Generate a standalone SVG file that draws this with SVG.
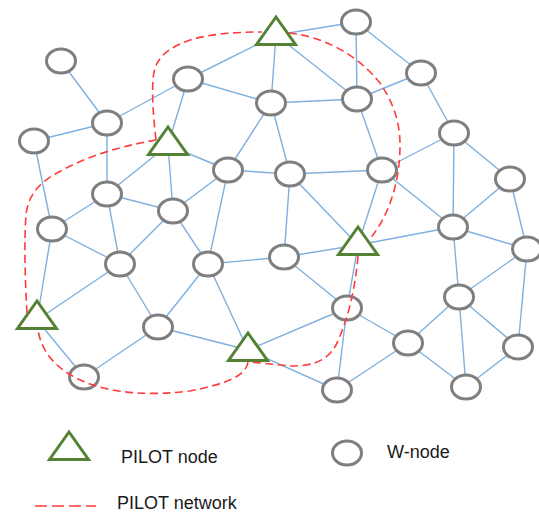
<svg xmlns="http://www.w3.org/2000/svg" width="539" height="512" viewBox="0 0 539 512">
  <style>
    .edge { stroke: #7eb0e0; stroke-width: 1.4; fill: none; }
    .wnode { fill: #ffffff; stroke: #7f7f7f; stroke-width: 3; }
    .pilot { fill: #ffffff; stroke: #548235; stroke-width: 3; stroke-linejoin: miter; }
    .net { stroke: #ff3b3b; stroke-width: 1.6; fill: none; stroke-dasharray: 8 4.5; }
    .label { font-family: "Liberation Sans", Arial, sans-serif; font-size: 18px; fill: #1a1a1a; }
  </style>
  <defs>
    <ellipse id="w" cx="0" cy="0" rx="14.5" ry="12"/>
    <path id="tri" d="M0,-14 L19.5,13.5 L-19.5,13.5 Z"/>
  </defs>
  <rect width="539" height="512" fill="#ffffff"/>

  <!-- links between nodes -->
  <g id="connectors" class="edge">
    <line x1="61" y1="61" x2="107" y2="123"/>
    <line x1="107" y1="123" x2="34" y2="141"/>
    <line x1="107" y1="123" x2="188" y2="79"/>
    <line x1="107" y1="123" x2="107" y2="194"/>
    <line x1="34" y1="141" x2="52" y2="229"/>
    <line x1="188" y1="79" x2="168" y2="145"/>
    <line x1="188" y1="79" x2="276" y2="35"/>
    <line x1="188" y1="79" x2="271" y2="103"/>
    <line x1="276" y1="35" x2="271" y2="103"/>
    <line x1="276" y1="35" x2="356" y2="22"/>
    <line x1="276" y1="35" x2="357" y2="99"/>
    <line x1="271" y1="103" x2="357" y2="99"/>
    <line x1="271" y1="103" x2="228" y2="170"/>
    <line x1="271" y1="103" x2="290" y2="174"/>
    <line x1="356" y1="22" x2="357" y2="99"/>
    <line x1="356" y1="22" x2="421" y2="73"/>
    <line x1="357" y1="99" x2="421" y2="73"/>
    <line x1="357" y1="99" x2="382" y2="170"/>
    <line x1="421" y1="73" x2="454" y2="133"/>
    <line x1="454" y1="133" x2="382" y2="170"/>
    <line x1="454" y1="133" x2="453" y2="227"/>
    <line x1="454" y1="133" x2="510" y2="179"/>
    <line x1="168" y1="145" x2="107" y2="194"/>
    <line x1="168" y1="145" x2="173" y2="211"/>
    <line x1="168" y1="145" x2="228" y2="170"/>
    <line x1="228" y1="170" x2="290" y2="174"/>
    <line x1="290" y1="174" x2="382" y2="170"/>
    <line x1="228" y1="170" x2="173" y2="211"/>
    <line x1="228" y1="170" x2="208" y2="264"/>
    <line x1="290" y1="174" x2="284" y2="257"/>
    <line x1="290" y1="174" x2="358" y2="245"/>
    <line x1="208" y1="264" x2="284" y2="257"/>
    <line x1="284" y1="257" x2="358" y2="245"/>
    <line x1="284" y1="257" x2="347" y2="308"/>
    <line x1="208" y1="264" x2="248" y2="350"/>
    <line x1="208" y1="264" x2="158" y2="327"/>
    <line x1="173" y1="211" x2="208" y2="264"/>
    <line x1="173" y1="211" x2="107" y2="194"/>
    <line x1="173" y1="211" x2="120" y2="264"/>
    <line x1="107" y1="194" x2="52" y2="229"/>
    <line x1="107" y1="194" x2="120" y2="264"/>
    <line x1="52" y1="229" x2="120" y2="264"/>
    <line x1="52" y1="229" x2="37" y2="320"/>
    <line x1="37" y1="320" x2="120" y2="264"/>
    <line x1="120" y1="264" x2="158" y2="327"/>
    <line x1="37" y1="320" x2="84" y2="377"/>
    <line x1="158" y1="327" x2="84" y2="377"/>
    <line x1="158" y1="327" x2="248" y2="350"/>
    <line x1="248" y1="350" x2="347" y2="308"/>
    <line x1="248" y1="350" x2="337" y2="390"/>
    <line x1="358" y1="245" x2="382" y2="170"/>
    <line x1="358" y1="245" x2="453" y2="227"/>
    <line x1="358" y1="245" x2="347" y2="308"/>
    <line x1="347" y1="308" x2="337" y2="390"/>
    <line x1="347" y1="308" x2="408" y2="343"/>
    <line x1="408" y1="343" x2="337" y2="390"/>
    <line x1="382" y1="170" x2="453" y2="227"/>
    <line x1="510" y1="179" x2="453" y2="227"/>
    <line x1="510" y1="179" x2="527" y2="249"/>
    <line x1="453" y1="227" x2="527" y2="249"/>
    <line x1="453" y1="227" x2="459" y2="297"/>
    <line x1="527" y1="249" x2="459" y2="297"/>
    <line x1="527" y1="249" x2="518" y2="347"/>
    <line x1="459" y1="297" x2="408" y2="343"/>
    <line x1="459" y1="297" x2="518" y2="347"/>
    <line x1="459" y1="297" x2="466" y2="387"/>
    <line x1="408" y1="343" x2="466" y2="387"/>
    <line x1="518" y1="347" x2="466" y2="387"/>
  </g>

  <!-- W-nodes -->
  <g id="w1"><use href="#w" class="wnode" x="61" y="61"/></g>
  <g id="w2"><use href="#w" class="wnode" x="107" y="123"/></g>
  <g id="w3"><use href="#w" class="wnode" x="34" y="141"/></g>
  <g id="w4"><use href="#w" class="wnode" x="188" y="79"/></g>
  <g id="w5"><use href="#w" class="wnode" x="271" y="103"/></g>
  <g id="w6"><use href="#w" class="wnode" x="356" y="22"/></g>
  <g id="w7"><use href="#w" class="wnode" x="357" y="99"/></g>
  <g id="w8"><use href="#w" class="wnode" x="421" y="73"/></g>
  <g id="w9"><use href="#w" class="wnode" x="454" y="133"/></g>
  <g id="w10"><use href="#w" class="wnode" x="382" y="170"/></g>
  <g id="w11"><use href="#w" class="wnode" x="290" y="174"/></g>
  <g id="w12"><use href="#w" class="wnode" x="228" y="170"/></g>
  <g id="w13"><use href="#w" class="wnode" x="173" y="211"/></g>
  <g id="w14"><use href="#w" class="wnode" x="107" y="194"/></g>
  <g id="w15"><use href="#w" class="wnode" x="52" y="229"/></g>
  <g id="w16"><use href="#w" class="wnode" x="120" y="264"/></g>
  <g id="w17"><use href="#w" class="wnode" x="208" y="264"/></g>
  <g id="w18"><use href="#w" class="wnode" x="284" y="257"/></g>
  <g id="w19"><use href="#w" class="wnode" x="510" y="179"/></g>
  <g id="w20"><use href="#w" class="wnode" x="453" y="227"/></g>
  <g id="w21"><use href="#w" class="wnode" x="527" y="249"/></g>
  <g id="w22"><use href="#w" class="wnode" x="459" y="297"/></g>
  <g id="w23"><use href="#w" class="wnode" x="158" y="327"/></g>
  <g id="w24"><use href="#w" class="wnode" x="347" y="308"/></g>
  <g id="w25"><use href="#w" class="wnode" x="408" y="343"/></g>
  <g id="w26"><use href="#w" class="wnode" x="518" y="347"/></g>
  <g id="w27"><use href="#w" class="wnode" x="84" y="377"/></g>
  <g id="w28"><use href="#w" class="wnode" x="337" y="390"/></g>
  <g id="w29"><use href="#w" class="wnode" x="466" y="387"/></g>

  <!-- PILOT nodes -->
  <g id="p1"><use href="#tri" class="pilot" x="276" y="31"/></g>
  <g id="p2"><use href="#tri" class="pilot" x="168" y="141"/></g>
  <g id="p3"><use href="#tri" class="pilot" x="358" y="241"/></g>
  <g id="p4"><use href="#tri" class="pilot" x="37" y="315"/></g>
  <g id="p5"><use href="#tri" class="pilot" x="248" y="347"/></g>

  <!-- PILOT network ring, drawn between the pilot triangles -->
  <g id="pilot-network" class="net">
    <path d="M156,140 C153,115 152,95 153,80 C154,62 162,50 190,40 C210,34 235,32 262,32"/>
    <path d="M289,33 C320,36 355,52 380,83 C395,105 400,125 400,145 C400,180 390,215 369,240"/>
    <path d="M358,256 C355,290 348,320 336,345 C325,365 305,366 290,366 L250,362"/>
    <path d="M248,362 C246,375 230,383 190,391 C150,396 115,393 90,384 C60,373 42,355 38,330"/>
    <path d="M27,313 C25,280 24,240 26,215 C28,195 40,182 57,173 C80,160 110,148 156,140"/>
  </g>

  <!-- legend -->
  <g id="legend">
    <use href="#tri" class="pilot" x="69" y="446"/>
    <text class="label" x="121" y="463">PILOT node</text>
    <use href="#w" class="wnode" x="347" y="453"/>
    <text class="label" x="387" y="458">W-node</text>
    <line class="net" x1="35" y1="506" x2="96" y2="506" style="stroke-dasharray:12 5"/>
    <text class="label" x="117" y="509">PILOT network</text>
  </g>
</svg>
